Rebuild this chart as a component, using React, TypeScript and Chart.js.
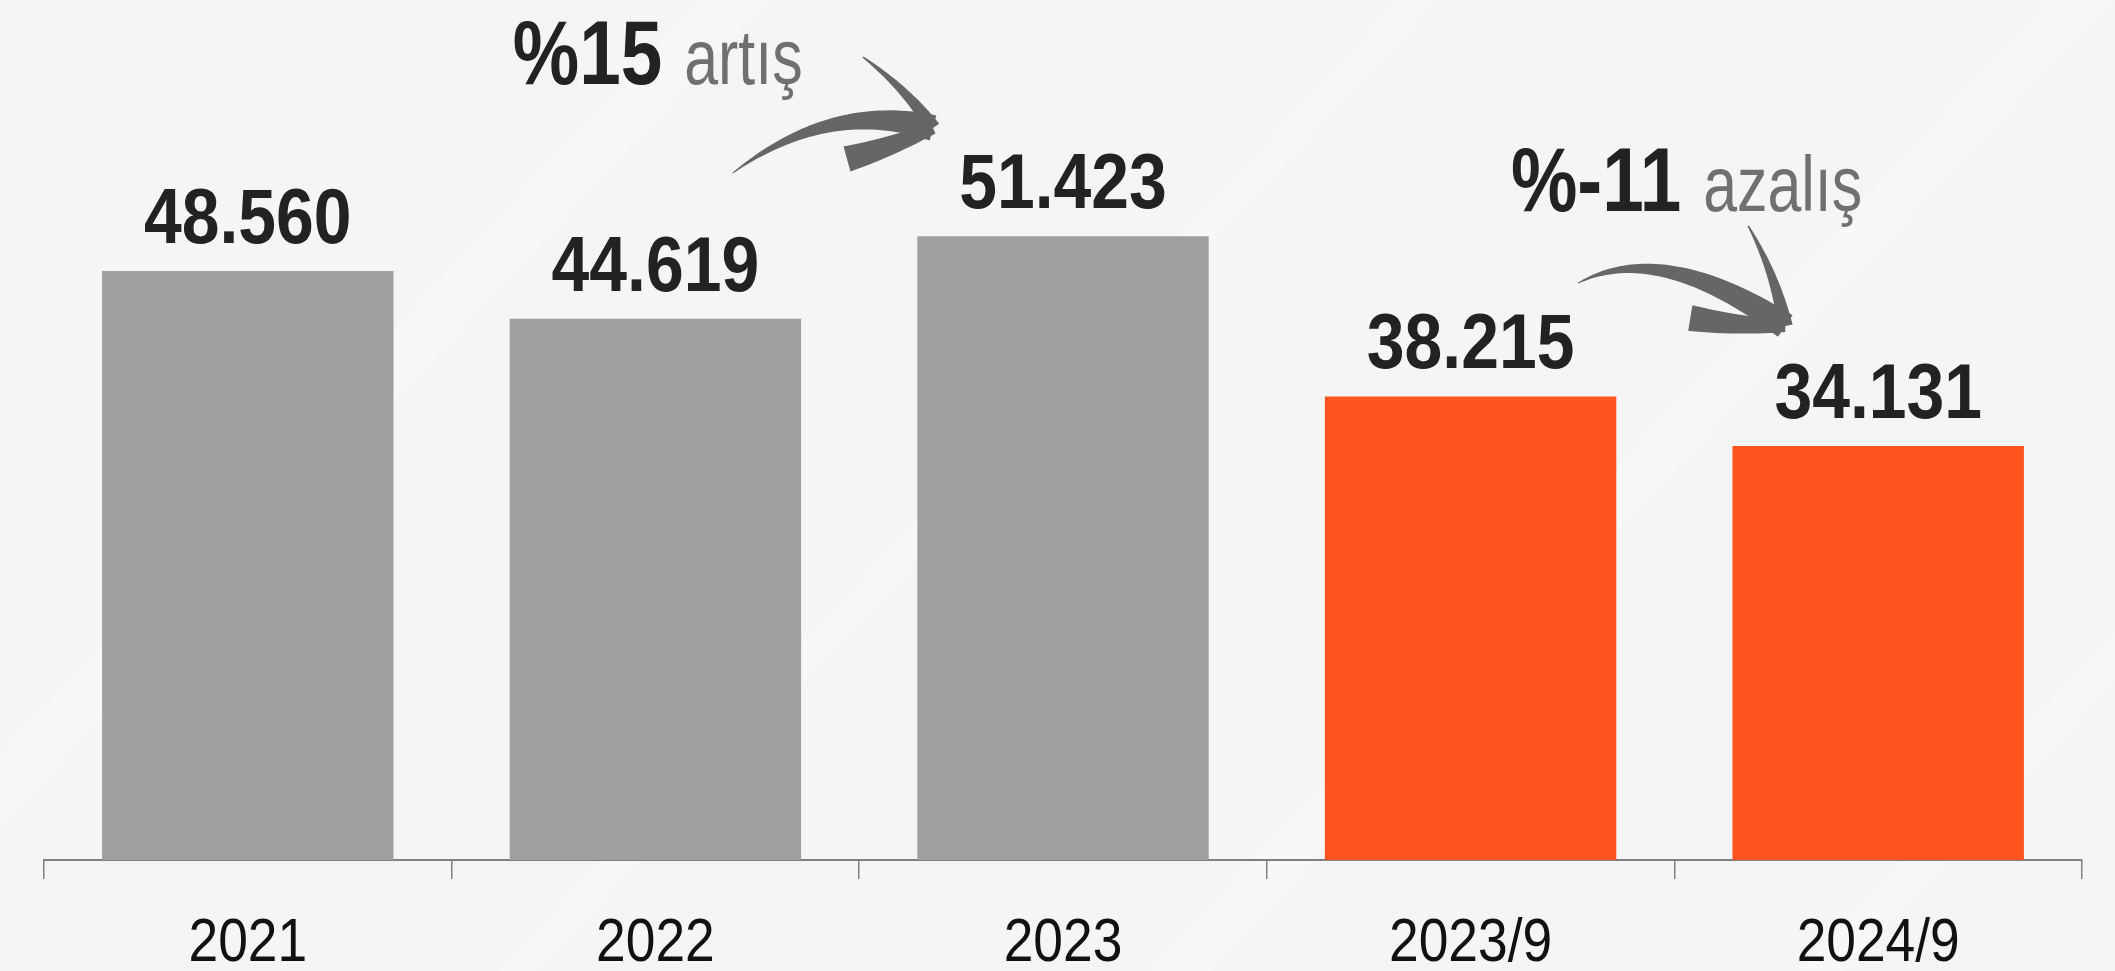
import React, { useEffect, useRef } from "react";
import { Chart, registerables } from "chart.js";

Chart.register(...registerables);

const categories = ["2021", "2022", "2023", "2023/9", "2024/9"];
const values = [48560, 44619, 51423, 38215, 34131];
const valueLabels = ["48.560", "44.619", "51.423", "38.215", "34.131"];
const barColors = ["#a0a0a0", "#a0a0a0", "#a0a0a0", "#ff541f", "#ff541f"];
const yMax = 70900;

// annotation texts: anchor in category units (x) and value units (baseline y)
const noteStrong = ["%15", "%-11"];
const noteLight = ["artış", "azalış"];
const noteAt = [0.65, 3.099];
const noteValue = [63970, 53500];

// arrows: [tail, control, tip, upperBarb, lowerBarb] as [category, value]
const arrow1 = [[1.19, 56640], [1.428, 62650], [1.681, 60350], [1.509, 66200], [1.47, 57790]];
const arrow2 = [[3.264, 47570], [3.465, 51110], [3.772, 44020], [3.681, 52270], [3.539, 44680]];
const arrows = [arrow1, arrow2];

const FONT = '"Liberation Sans", Arial, sans-serif';

function drawNarrow(ctx: CanvasRenderingContext2D, text: string, x: number, y: number, sx: number, align: "left" | "center") {
  ctx.save();
  ctx.translate(x, y);
  ctx.scale(sx, 1);
  ctx.textAlign = align;
  ctx.fillText(text, 0, 0);
  ctx.restore();
  return ctx.measureText(text).width * sx;
}

function taperedStroke(ctx: CanvasRenderingContext2D, pts: number[][], w0: number, w1: number) {
  const left: number[][] = [];
  const right: number[][] = [];
  for (let i = 0; i < pts.length; i++) {
    const a = pts[Math.max(0, i - 1)];
    const b = pts[Math.min(pts.length - 1, i + 1)];
    let dx = b[0] - a[0];
    let dy = b[1] - a[1];
    const len = Math.hypot(dx, dy) || 1;
    dx /= len; dy /= len;
    const t = i / (pts.length - 1);
    const w = (w0 + (w1 - w0) * t) / 2;
    left.push([pts[i][0] - dy * w, pts[i][1] + dx * w]);
    right.push([pts[i][0] + dy * w, pts[i][1] - dx * w]);
  }
  ctx.beginPath();
  ctx.moveTo(left[0][0], left[0][1]);
  for (const p of left) ctx.lineTo(p[0], p[1]);
  for (let i = right.length - 1; i >= 0; i--) ctx.lineTo(right[i][0], right[i][1]);
  ctx.closePath();
  ctx.fill();
}

function quad(p0: number[], c: number[], p1: number[], n: number) {
  const out: number[][] = [];
  for (let i = 0; i <= n; i++) {
    const t = i / n;
    const u = 1 - t;
    out.push([u * u * p0[0] + 2 * u * t * c[0] + t * t * p1[0], u * u * p0[1] + 2 * u * t * c[1] + t * t * p1[1]]);
  }
  return out;
}

const overlayPlugin = {
  id: "overlay",
  beforeDraw(chart: any) {
    const { ctx, width, height } = chart;
    ctx.save();
    ctx.fillStyle = "#f5f5f5";
    ctx.fillRect(0, 0, width, height);
    // faint diagonal light bands
    ctx.fillStyle = "rgba(255,255,255,0.28)";
    const bands = [[-200, 0.22], [500, 0.12], [1150, 0.2], [1800, 0.15]];
    bands.forEach(([x0, w]) => {
      ctx.beginPath();
      ctx.moveTo(x0, height);
      ctx.lineTo(x0 + 900, 0);
      ctx.lineTo(x0 + 900 + w * 300, 0);
      ctx.lineTo(x0 + w * 300, height);
      ctx.closePath();
      ctx.fill();
    });
    ctx.restore();
  },
  afterDatasetsDraw(chart: any) {
    const { ctx } = chart;
    const xs = chart.scales.x;
    const ys = chart.scales.y;
    const meta = chart.getDatasetMeta(0);
    ctx.save();
    ctx.textBaseline = "alphabetic";
    // value labels
    ctx.fillStyle = "#222222";
    ctx.font = `bold 78px ${FONT}`;
    meta.data.forEach((bar: any, i: number) => {
      drawNarrow(ctx, valueLabels[i], bar.x, bar.y - 28, 0.87, "center");
    });
    // category labels under the axis, at the scale's tick positions
    ctx.fillStyle = "#111111";
    ctx.font = `normal 62px ${FONT}`;
    categories.forEach((c, i) => {
      drawNarrow(ctx, c, xs.getPixelForTick(i), 961, 0.86, "center");
    });
    // notes
    const catW = xs.getPixelForValue(1) - xs.getPixelForValue(0);
    const px = (c: number) => xs.getPixelForValue(0) + c * catW;
    const py = (v: number) => ys.getPixelForValue(v);
    noteStrong.forEach((s, i) => {
      const x = px(noteAt[i]);
      const y = py(noteValue[i]);
      ctx.font = `bold 90px ${FONT}`;
      ctx.fillStyle = "#222222";
      const w = drawNarrow(ctx, s, x, y, 0.83, "left");
      ctx.font = `normal 78px ${FONT}`;
      ctx.fillStyle = "#707070";
      drawNarrow(ctx, noteLight[i], x + w + 22, y, 0.78, "left");
    });
    // arrows
    ctx.fillStyle = "#666666";
    arrows.forEach((a) => {
      const P = a.map((p) => [px(p[0]), py(p[1])]);
      taperedStroke(ctx, quad(P[0], P[1], P[2], 50), 1, 26);
      const up = quad(P[3], [(P[3][0] + P[2][0]) / 2 + 8, (P[3][1] + P[2][1]) / 2 - 4], P[2], 24);
      taperedStroke(ctx, up, 1.5, 15);
      taperedStroke(ctx, quad(P[4], [(P[4][0] + P[2][0]) / 2, (P[4][1] + P[2][1]) / 2 + 4], P[2], 14), 26, 12);
    });
    ctx.restore();
  },
};

export default function App() {
  const ref = useRef<HTMLCanvasElement | null>(null);
  useEffect(() => {
    document.body.style.margin = "0";
    const chart = new Chart(ref.current as HTMLCanvasElement, {
      type: "bar",
      data: {
        labels: categories,
        datasets: [
          {
            data: values,
            backgroundColor: barColors,
            borderWidth: 0,
            categoryPercentage: 1,
            barPercentage: 0.715,
          },
        ],
      },
      options: {
        responsive: false,
        animation: false,
        layout: { padding: { left: 44, right: 33, top: 0, bottom: 0 } },
        plugins: { legend: { display: false }, tooltip: { enabled: false } },
        scales: {
          x: {
            border: { display: true, color: "#808080", width: 2 },
            grid: { display: true, drawOnChartArea: false, drawTicks: true, tickLength: 19, color: "#808080", lineWidth: 1.5 },
            ticks: { display: false },
            afterFit: (s: any) => { s.height = 111; },
          },
          y: { display: false, min: 0, max: yMax },
        },
      },
      plugins: [overlayPlugin],
    });
    return () => chart.destroy();
  }, []);
  return (
    <div style={{ position: "fixed", left: 0, top: 0, width: 2115, height: 971 }}>
      <canvas ref={ref} width={2115} height={971} style={{ display: "block" }} />
    </div>
  );
}
